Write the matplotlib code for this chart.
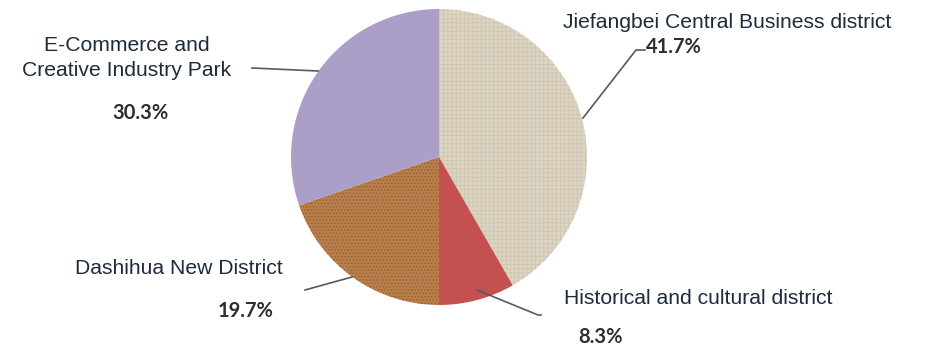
import matplotlib.pyplot as plt

labels = ['Jiefangbei Central Business district', 'Historical and cultural district',
          'Dashihua New District', 'E-Commerce and\nCreative Industry Park']
shares = [41.7, 8.3, 19.7, 30.3]
colors = ['#ddd5c4', '#c4504f', '#b87e4c', '#ab9fc8']
hatches = ['++++', None, '.....', None]
hatch_cols = ['#cfc6b2', None, '#96602f', None]

plt.rcParams['hatch.linewidth'] = 0.6

W, H = 925, 346
fig = plt.figure(figsize=(W / 100, H / 100), dpi=100)
ax = fig.add_axes([0, 0, 1, 1])

cx, cy, r = 439, H - 157, 148
wedges, _ = ax.pie(shares, colors=colors, startangle=90, counterclock=False,
                   center=(cx, cy), radius=r, frame=True,
                   wedgeprops=dict(linewidth=0))
ax.set_xlim(0, W)
ax.set_ylim(0, H)
ax.axis('off')
for w, h, hc in zip(wedges, hatches, hatch_cols):
    if h:
        w.set_hatch(h)
        w.set_edgecolor(hc)
        w.set_linewidth(0)

name_kw = dict(fontsize=15.2, color='#1e2b3c', family='Liberation Sans')
pct_kw = dict(fontsize=14.5, color='#2e2e2e', fontweight='bold', family='Lato')
line_kw = dict(color='#555a60', lw=1.2)

def Y(y):
    return H - y

# Jiefangbei
ax.text(563, Y(22), labels[0], ha='left', va='center', **name_kw)
ax.text(646, Y(47), f'{shares[0]}%', ha='left', va='center', **pct_kw)
ax.plot([583, 636, 645], [Y(118), Y(50), Y(50)], **line_kw)

# Historical
ax.text(564, Y(298), labels[1], ha='left', va='center', **name_kw)
ax.text(578, Y(337), f'{shares[1]}%', ha='left', va='center', **pct_kw)
ax.plot([477, 538, 541], [Y(290), Y(315), Y(315)], **line_kw)

# Dashihua
ax.text(179, Y(268), labels[2], ha='center', va='center', **name_kw)
ax.text(246, Y(311), f'{shares[2]}%', ha='center', va='center', **pct_kw)
ax.plot([305, 352], [Y(290), Y(277)], **line_kw)

# E-Commerce
ax.text(127, Y(58), labels[3], ha='center', va='center', linespacing=1.35, **name_kw)
ax.text(140, Y(113), f'{shares[3]}%', ha='center', va='center', **pct_kw)
ax.plot([252, 318], [Y(68), Y(71)], **line_kw)

fig.savefig('out.png', dpi=100, facecolor='white')
